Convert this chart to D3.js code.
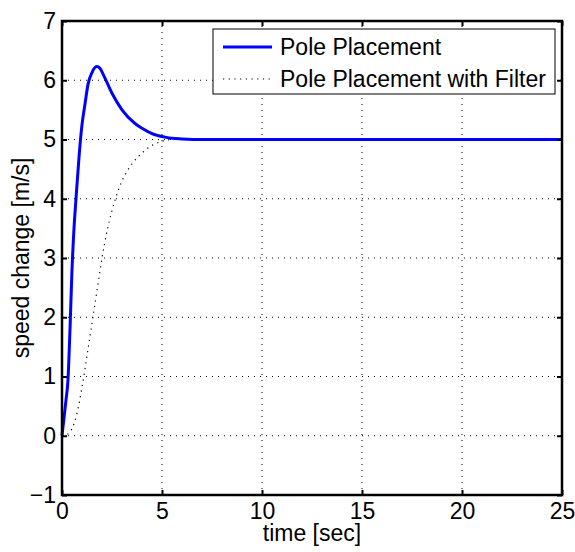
<!DOCTYPE html>
<html>
<head>
<meta charset="utf-8">
<script src="https://cdn.jsdelivr.net/npm/d3@7"></script>
<style>
  html, body { margin: 0; padding: 0; background: #fff; }
  svg text { font-family: "Liberation Sans", Arial, Helvetica, sans-serif; }
</style>
</head>
<body>
<svg id="chart" width="575" height="552"></svg>
<script>
// ---- data ----
const xTicks = [0, 5, 10, 15, 20, 25];
const yTicks = [-1, 0, 1, 2, 3, 4, 5, 6, 7];
const xLabel = "time [sec]";
const yLabel = "speed change [m/s]";
const seriesNames = ["Pole Placement", "Pole Placement with Filter"];

const tPole = [0, 0.1, 0.2, 0.3, 0.4, 0.5, 0.6, 0.7, 0.85, 1.0, 1.15, 1.3, 1.5, 1.73, 1.9, 2.1, 2.5, 3.0, 3.65, 4.0, 4.5, 5.15, 5.5, 6, 7, 10, 15, 20, 25];
const vPole = [0, 0.3, 0.6, 0.95, 1.8, 2.8, 3.5, 4.0, 4.7, 5.25, 5.6, 5.93, 6.13, 6.23, 6.2, 6.07, 5.78, 5.5, 5.27, 5.19, 5.1, 5.04, 5.02, 5.01, 5.0, 5.0, 5.0, 5.0, 5.0];

const tFilt = [0, 0.25, 0.5, 0.75, 1.0, 1.25, 1.5, 1.75, 2.0, 2.25, 2.5, 2.75, 3.0, 3.25, 3.5, 4.0, 4.5, 5.0, 5.5, 6, 7, 10, 15, 20, 25];
const vFilt = [0, 0.02, 0.12, 0.38, 0.82, 1.35, 1.9, 2.45, 3.0, 3.45, 3.8, 4.08, 4.3, 4.46, 4.59, 4.77, 4.9, 4.97, 5.0, 5.0, 5.0, 5.0, 5.0, 5.0, 5.0];

// ---- layout ----
const svg = d3.select("#chart");
const L = 62, R = 562, T = 21, B = 495;
const x = d3.scaleLinear().domain([0, 25]).range([L, R]);
const y = d3.scaleLinear().domain([-1, 7]).range([B, T]);
const FS = 23;

// grid
const grid = svg.append("g").attr("stroke", "#000").attr("stroke-width", 1)
  .attr("stroke-dasharray", "1,5");
xTicks.filter(d => d > 0 && d < 25).forEach(d => {
  grid.append("line").attr("x1", x(d)).attr("x2", x(d)).attr("y1", B).attr("y2", T);
});
yTicks.filter(d => d > -1 && d < 7).forEach(d => {
  grid.append("line").attr("x1", L).attr("x2", R).attr("y1", y(d)).attr("y2", y(d));
});

// curves
const pole = tPole.map((t, i) => [t, vPole[i]]);
const filt = tFilt.map((t, i) => [t, vFilt[i]]);
const line = d3.line().x(d => x(d[0])).y(d => y(d[1])).curve(d3.curveMonotoneX);

svg.append("path").datum(filt).attr("d", line).attr("fill", "none")
  .attr("stroke", "#000").attr("stroke-width", 1.2).attr("stroke-dasharray", "1.2,4.5");
svg.append("path").datum(pole).attr("d", line).attr("fill", "none")
  .attr("stroke", "#0000ff").attr("stroke-width", 3).attr("stroke-linejoin", "round");

// axes (MATLAB style box with inward ticks on all sides)
const axB = svg.append("g").attr("transform", `translate(0,${B})`)
  .call(d3.axisBottom(x).tickValues(xTicks).tickSizeInner(-5).tickSizeOuter(0).tickPadding(8)
    .tickFormat(d => String(d)));
const axT = svg.append("g").attr("transform", `translate(0,${T})`)
  .call(d3.axisTop(x).tickValues(xTicks).tickSizeInner(-5).tickSizeOuter(0).tickFormat(""));
const axL = svg.append("g").attr("transform", `translate(${L},0)`)
  .call(d3.axisLeft(y).tickValues(yTicks).tickSizeInner(-5).tickSizeOuter(0).tickPadding(6)
    .tickFormat(d => d < 0 ? "\u2212" + Math.abs(d) : String(d)));
const axR = svg.append("g").attr("transform", `translate(${R},0)`)
  .call(d3.axisRight(y).tickValues(yTicks).tickSizeInner(-5).tickSizeOuter(0).tickFormat(""));

[axB, axT, axL, axR].forEach(g => {
  g.select(".domain").remove();
  g.selectAll(".tick line").attr("stroke", "#000").attr("stroke-width", 2);
  g.selectAll("text").attr("font-size", FS).attr("fill", "#000")
    .attr("font-family", '"Liberation Sans", Arial, sans-serif');
});
axB.selectAll("text").attr("dy", "0.71em");

svg.append("rect").attr("x", L).attr("y", T).attr("width", R - L).attr("height", B - T)
  .attr("fill", "none").attr("stroke", "#000").attr("stroke-width", 2.5);

// axis labels
svg.append("text").attr("x", (L + R) / 2).attr("y", 541).attr("text-anchor", "middle")
  .attr("font-size", FS).text(xLabel);
svg.append("text").attr("transform", `translate(29,${(T + B) / 2}) rotate(-90)`)
  .attr("text-anchor", "middle").attr("font-size", FS).text(yLabel);

// legend
const lg = svg.append("g");
lg.append("rect").attr("x", 213).attr("y", 29).attr("width", 342).attr("height", 65)
  .attr("fill", "#fff").attr("stroke", "#000").attr("stroke-width", 1);
const rows = [47, 79];
lg.append("line").attr("x1", 223).attr("x2", 272).attr("y1", rows[0]).attr("y2", rows[0])
  .attr("stroke", "#0000ff").attr("stroke-width", 3);
lg.append("line").attr("x1", 223).attr("x2", 272).attr("y1", rows[1]).attr("y2", rows[1])
  .attr("stroke", "#000").attr("stroke-width", 1.2).attr("stroke-dasharray", "1.2,4.5");
seriesNames.forEach((n, i) => {
  lg.append("text").attr("x", 280).attr("y", rows[i]).attr("dy", "0.35em")
    .attr("font-size", FS).text(n);
});
</script>
</body>
</html>
